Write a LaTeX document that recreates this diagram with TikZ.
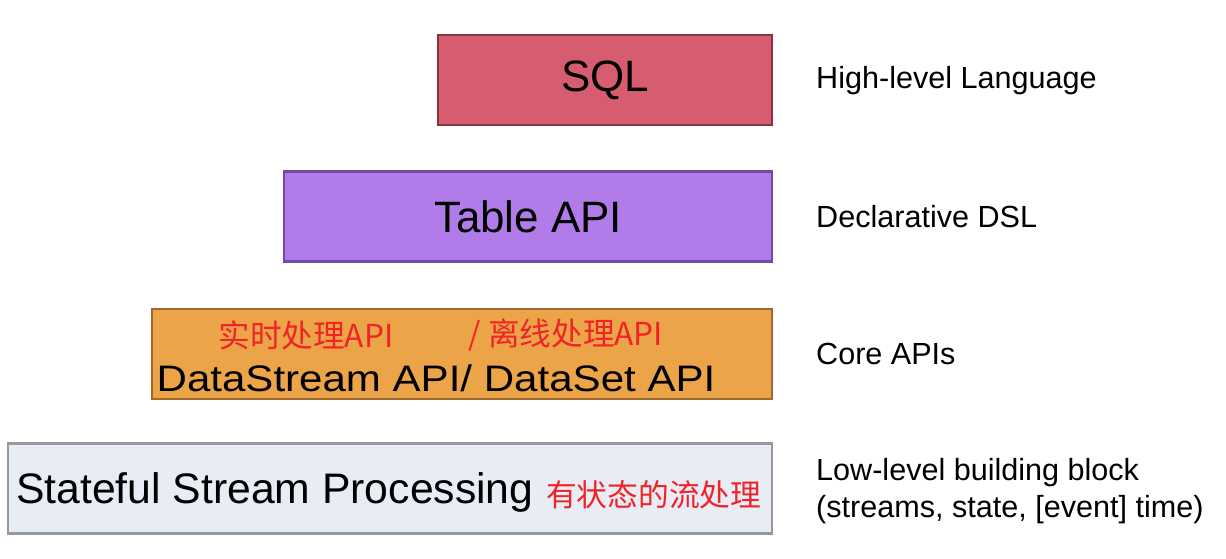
\documentclass[tikz,border=0pt]{standalone}
\usepackage{fontspec}
\setmainfont{Liberation Sans}
\newfontfamily\cjkfont{Noto Sans CJK SC}
\usetikzlibrary{positioning}
\definecolor{SqlRed}{RGB}{214,93,111}
\definecolor{SqlEdge}{RGB}{140,50,65}
\definecolor{TablePurple}{RGB}{177,123,233}
\definecolor{TableEdge}{RGB}{115,75,165}
\definecolor{CoreOrange}{RGB}{236,164,72}
\definecolor{CoreEdge}{RGB}{160,105,45}
\definecolor{LowGrey}{RGB}{231,236,245}
\definecolor{LowEdge}{RGB}{150,152,160}
\definecolor{NoteRed}{RGB}{240,35,40}

\begin{document}
\begin{tikzpicture}[x=0.02cm,y=-0.02cm,
    layer/.style={draw,line width=1.2pt,inner sep=0pt,minimum height=1.8cm},
    side/.style={anchor=west,font=\fontsize{17.4}{21.5}\selectfont,align=left},
    note/.style={text=NoteRed,font=\cjkfont\fontsize{18}{20}\selectfont}]
  \useasboundingbox (0,0) rectangle (1226,558);
  % the four layers
  \node[layer,fill=SqlRed,draw=SqlEdge,minimum width=6.68cm,
    font=\fontsize{25}{30}\selectfont] (sql) at (605,80) {SQL};
  \node[layer,fill=TablePurple,draw=TableEdge,minimum width=9.76cm,
    font=\fontsize{25}{30}\selectfont] (table) at (528,216.5) {Table API};
  \node[layer,fill=CoreOrange,draw=CoreEdge,minimum width=12.4cm] (core) at (462,354) {};
  \node[layer,fill=LowGrey,draw=LowEdge,minimum width=15.28cm] (low) at (390,488.5) {};
  % texts in the lower boxes
  \node[font=\fontsize{21}{24}\selectfont,xscale=1.14] (coretxt) at (436,378) {DataStream API/ DataSet API};
  \node[note] (rt) at (306,335) {实时处理API};
  \node[note] (off) at (566,335) {/ 离线处理API};
  \node[anchor=west,font=\fontsize{24.3}{30}\selectfont] (lowtxt) at (10,492) {Stateful Stream Processing};
  \node[note,font=\cjkfont\fontsize{17.5}{20}\selectfont,anchor=west] (lowcn) at (540,495) {有状态的流处理};
  % labels on the right
  \node[side] (lang) at (810,81) {High-level Language};
  \node[side] (dsl) at (810,217) {Declarative DSL};
  \node[side] (apis) at (810,354) {Core APIs};
  \node[side] (block) at (810,491) {Low-level building block\\(streams, state, [event] time)};
\end{tikzpicture}
\end{document}
